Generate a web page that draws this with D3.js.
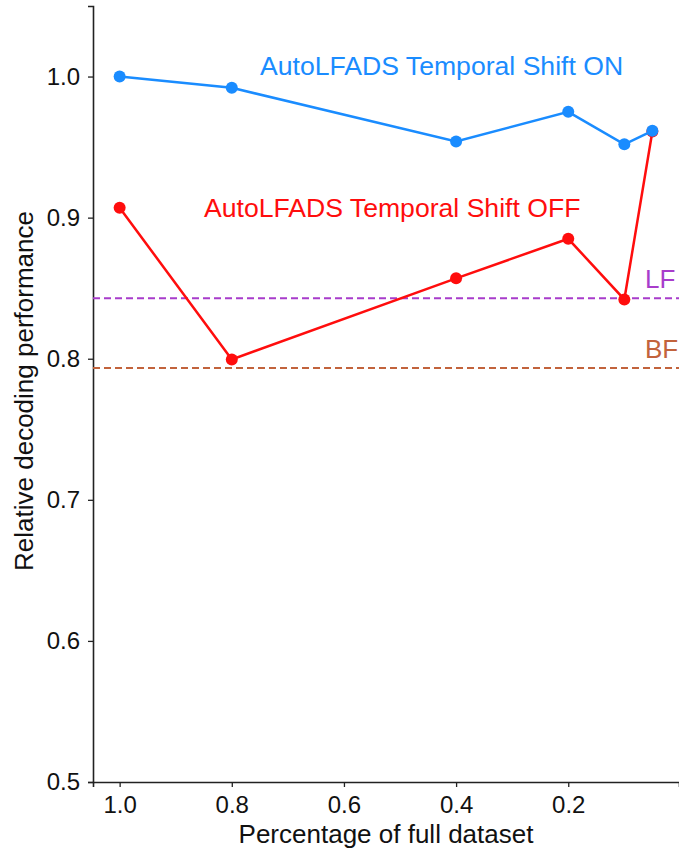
<!DOCTYPE html>
<html>
<head>
<meta charset="utf-8">
<script src="https://cdn.jsdelivr.net/npm/d3@7"></script>
<style>
  body { margin: 0; background: #fff; }
  text { font-family: "Liberation Sans", Arial, sans-serif; }
</style>
</head>
<body>
<svg id="chart" width="679" height="851"></svg>
<script>
// data
const fractions = [1.0, 0.8, 0.4, 0.2, 0.1, 0.05];
const shiftOn = [1.0, 0.992, 0.954, 0.975, 0.952, 0.9615];
const shiftOff = [0.907, 0.7995, 0.857, 0.885, 0.842, 0.961];
const xTicks = [1.0, 0.8, 0.6, 0.4, 0.2];
const yTicks = [0.5, 0.6, 0.7, 0.8, 0.9, 1.0];
const baselines = [
    {name: "LF", value: 0.8428, color: "#a83ccb"},
    {name: "BF", value: 0.7934, color: "#c2633c"}
];

const svg = d3.select("#chart"),
    margin = {top: 6, right: 0, bottom: 69, left: 93},
    width = 679,
    height = 851;

const x = d3.scaleLinear()
    .domain([1.0475, 0.0025])
    .range([margin.left, width - margin.right]);

const y = d3.scaleLinear()
    .domain([0.5, 1.05])
    .range([height - margin.bottom, margin.top]);

// axes
const xAxis = svg.append("g")
    .attr("transform", "translate(0," + y(0.5) + ")")
    .call(d3.axisBottom(x).tickValues(xTicks).tickFormat(d3.format(".1f")).tickSizeOuter(0).tickSize(5).tickPadding(9));

const yAxis = svg.append("g")
    .attr("transform", "translate(" + margin.left + ",0)")
    .call(d3.axisLeft(y).tickValues(yTicks).tickFormat(d3.format(".1f")).tickSizeOuter(0).tickSize(5).tickPadding(8));

[xAxis, yAxis].forEach(function(g) {
    g.select(".domain").attr("stroke", "#222").attr("stroke-width", 1.6);
    g.selectAll(".tick line").attr("stroke", "#222").attr("stroke-width", 1.3);
    g.selectAll(".tick text").attr("fill", "#111").style("font-size", "24px")
        .style("font-family", "'Liberation Sans', Arial, sans-serif");
});

svg.append("text")
    .attr("x", (x.range()[0] + x.range()[1]) / 2)
    .attr("y", 843)
    .attr("text-anchor", "middle")
    .style("font-size", "26px")
    .attr("fill", "#111")
    .text("Percentage of full dataset");

svg.append("text")
    .attr("transform", "translate(33,391) rotate(-90)")
    .attr("text-anchor", "middle")
    .style("font-size", "26px")
    .attr("fill", "#111")
    .text("Relative decoding performance");

// baseline dashed lines
baselines.forEach(function(b) {
    svg.append("line")
        .attr("x1", x.range()[0])
        .attr("x2", x.range()[1])
        .attr("y1", y(b.value))
        .attr("y2", y(b.value))
        .attr("stroke", b.color)
        .attr("stroke-width", 2)
        .attr("stroke-dasharray", "7,4");
    svg.append("text")
        .attr("x", 645)
        .attr("y", y(b.value) - 10)
        .style("font-size", "26px")
        .attr("fill", b.color)
        .text(b.name);
});

// series
const series = [
    {name: "AutoLFADS Temporal Shift OFF", values: shiftOff, color: "#ff0d0d", labelX: 204, labelY: 217},
    {name: "AutoLFADS Temporal Shift ON", values: shiftOn, color: "#1a8cff", labelX: 260, labelY: 75}
];

const line = d3.line()
    .x(function(d) { return x(d.f); })
    .y(function(d) { return y(d.v); });

series.forEach(function(s) {
    const pts = fractions.map(function(f, i) { return {f: f, v: s.values[i]}; });
    const g = svg.append("g");
    g.append("path")
        .datum(pts)
        .attr("fill", "none")
        .attr("stroke", s.color)
        .attr("stroke-width", 2.5)
        .attr("d", line);
    g.selectAll("circle")
        .data(pts)
        .enter()
        .append("circle")
        .attr("cx", function(d) { return x(d.f); })
        .attr("cy", function(d) { return y(d.v); })
        .attr("r", 6)
        .attr("fill", s.color);
    svg.append("text")
        .attr("x", s.labelX)
        .attr("y", s.labelY)
        .style("font-size", "26.6px")
        .attr("fill", s.color)
        .text(s.name);
});
</script>
</body>
</html>
